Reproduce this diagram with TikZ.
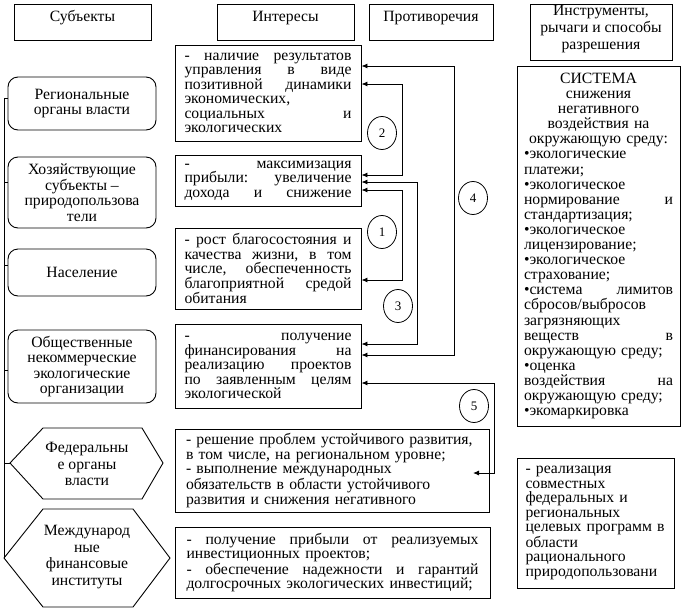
\documentclass[tikz,border=0pt]{standalone}
\usepackage{fontspec}
\setmainfont{Liberation Serif}
\newfontfamily\lserif{Liberation Serif}
\usetikzlibrary{arrows.meta,shapes.geometric}
\newcommand{\jl}[1]{\leavevmode{\frenchspacing\spaceskip=\fontdimen2\font plus 1fill\relax\hbox to \hsize{#1}}}
\newcommand{\cl}[1]{\leavevmode\hbox to \hsize{\hfil#1\hfil}}
\newcommand{\bodyfont}{\lserif\fontsize{15.7}{14.5}\selectfont}
\newcommand{\sysfont}{\lserif\fontsize{15.7}{15.1}\selectfont}
\newcommand{\leftfont}{\lserif\fontsize{15.7}{15.5}\selectfont}
\newcommand{\hexfont}{\lserif\fontsize{15.7}{16.5}\selectfont}
\newcommand{\hdfont}{\lserif\fontsize{15.7}{17}\selectfont}
\newcommand{\numfont}{\lserif\fontsize{13}{13}\selectfont}
\begin{document}
\begin{tikzpicture}[x=1pt,y=-1pt,
  every node/.style={inner sep=0pt},
  bx/.style={draw, line width=0.9pt, align=left, font=\bodyfont},
  lb/.style={draw, line width=0.9pt, rounded corners=10pt, align=center, font=\leftfont, minimum width=148pt},
  hd/.style={draw, line width=0.9pt},
  ht/.style={font=\hdfont, align=center},
  ov/.style={draw, ellipse, line width=0.8pt, minimum width=29pt, minimum height=33pt, font=\numfont},
  ln/.style={line width=0.9pt},
  dbl/.style={line width=0.9pt, {Latex[length=6pt,width=5pt]}-{Latex[length=6pt,width=5pt]}}
]
\useasboundingbox (0,0) rectangle (683,611);

% headers
\node[hd, minimum width=137pt, minimum height=36pt] (h1) at (82.5,22) {};
\node[ht] (h1t) at (82.5,18) {Субъекты};
\node[hd, minimum width=137pt, minimum height=36pt] (h2) at (285.5,22) {};
\node[ht] (h2t) at (285.5,18) {Интересы};
\node[hd, minimum width=124pt, minimum height=36pt] (h3) at (431,22) {};
\node[ht] (h3t) at (431,18) {Противоречия};
\node[hd, minimum width=142pt, minimum height=56pt] (h4) at (601,32) {};
\node[ht] (h4t) at (601,29) {Инструменты,\\ рычаги и способы\\ разрешения};

% left column
\node[lb, minimum height=53pt] (l1) at (82,103.5) {Региональные\\ органы власти};
\node[lb, minimum height=71pt] (l2) at (82,192.5) {Хозяйствующие\\ субъекты –\\ природопользова\\ тели};
\node[lb, minimum height=47pt] (l3) at (82,272.5) {Население};
\node[lb, minimum height=73pt] (l4) at (82,366.5) {Общественные\\ некоммерческие\\ экологические\\ организации};

\coordinate (hx1w) at (10,463);
\draw[ln] (hx1w) -- (43,428) -- (142,428) -- (163,463) -- (142,499) -- (43,499) -- cycle;
\node[font=\hexfont, align=center] (hx1t) at (87,464) {Федеральны\\ е органы\\ власти};
\coordinate (hx2w) at (4,558);
\draw[ln] (hx2w) -- (43,509) -- (133,509) -- (170,558) -- (133,607) -- (43,607) -- cycle;
\node[font=\hexfont, align=center] (hx2t) at (87,557) {Международ\\ ные\\ финансовые\\ институты};

% bus
\coordinate (bt) at (4,98);
\coordinate (t2) at (4,182);
\coordinate (t3) at (4,265);
\coordinate (t4) at (4,370);
\coordinate (t5) at (4,463);
\draw[ln] (bt) -- (hx2w);
\draw[ln] (bt) -- (l1.west |- bt);
\draw[ln] (t2) -- (l2.west |- t2);
\draw[ln] (t3) -- (l3.west |- t3);
\draw[ln] (t4) -- (l4.west |- t4);
\draw[ln] (t5) -- (hx1w);

% interests
\node[bx, text width=167pt, minimum width=186pt, minimum height=96pt] (b1) at (268,93)
  {\jl{- наличие результатов}\\ \jl{управления в виде}\\ \jl{позитивной динамики}\\ экономических,\\ \jl{социальных и}\\ экологических};
\node[bx, text width=167pt, minimum width=186pt, minimum height=51pt] (b2) at (268,180.5)
  {\jl{- максимизация}\\ \jl{прибыли: увеличение}\\ \jl{дохода и снижение}};
\node[bx, text width=167pt, minimum width=186pt, minimum height=81pt] (b3) at (268,268.5)
  {\jl{- рост благосостояния и}\\ \jl{качества жизни, в том}\\ \jl{числе, обеспеченность}\\ \jl{благоприятной средой}\\ обитания};
\node[bx, text width=167pt, minimum width=186pt, minimum height=84pt] (b4) at (268,366)
  {\jl{- получение}\\ \jl{финансирования на}\\ \jl{реализацию проектов}\\ \jl{по заявленным целям}\\ экологической};
\node[bx, text width=292pt, minimum width=314pt, minimum height=83pt] (b5) at (332,470.5)
  {- решение проблем устойчивого развития,\\ в том числе, на региональном уровне;\\ - выполнение международных\\ обязательств в области устойчивого\\ развития и снижения негативного};
\node[bx, text width=292pt, minimum width=315pt, minimum height=71pt] (b6) at (332.5,562.5)
  {\jl{- получение прибыли от реализуемых}\\ инвестиционных проектов;\\ \jl{- обеспечение надежности и гарантий}\\ долгосрочных экологических инвестиций;};

% right column
\node[bx, font=\sysfont, text width=149pt, minimum width=163pt, minimum height=360pt] (s) at (598.5,246)
  {\cl{СИСТЕМА}\\ \cl{снижения}\\ \cl{негативного}\\ \cl{воздействия на}\\ \cl{окружающую среду:}\\
   •экологические\\ платежи;\\ •экологическое\\ \jl{нормирование и}\\ стандартизация;\\
   •экологическое\\ лицензирование;\\ •экологическое\\ страхование;\\
   \jl{•система лимитов}\\ сбросов/выбросов\\ загрязняющих\\ \jl{веществ в}\\ окружающую среду;\\
   •оценка\\ \jl{воздействия на}\\ окружающую среду;\\ •экомаркировка};
\node[bx, text width=140pt, minimum width=157pt, minimum height=130pt] (br) at (595.5,523)
  {- реализация\\ совместных\\ федеральных и\\ региональных\\ целевых программ в\\ области\\ рационального\\ природопользовани};

% connectors
\coordinate (a4a) at (454,66);
\coordinate (a4b) at (454,355);
\draw[dbl] (b1.east |- a4a) -- (a4a) -- (a4b) -- (b4.east |- a4b);
\coordinate (a2a) at (402,84);
\coordinate (a2b) at (402,175);
\draw[dbl] (b1.east |- a2a) -- (a2a) -- (a2b) -- (b2.east |- a2b);
\coordinate (a3a) at (417,182);
\coordinate (a3b) at (417,344);
\draw[dbl] (b2.east |- a3a) -- (a3a) -- (a3b) -- (b4.east |- a3b);
\coordinate (a1a) at (402,190);
\coordinate (a1b) at (402,280);
\draw[dbl] (b2.east |- a1a) -- (a1a) -- (a1b) -- (b3.east |- a1b);
\coordinate (a5a) at (494,383);
\coordinate (a5b) at (494,473);
\coordinate (a5c) at (473,473);
\draw[dbl] (b4.east |- a5a) -- (a5a) -- (a5b) -- (a5c);

% numbers
\node[ov] (c2) at (382,133) {2};
\node[ov] (c1) at (382,232) {1};
\node[ov] (c3) at (398,306) {3};
\node[ov] (c4) at (473,198) {4};
\node[ov] (c5) at (474,406) {5};
\end{tikzpicture}
\end{document}
